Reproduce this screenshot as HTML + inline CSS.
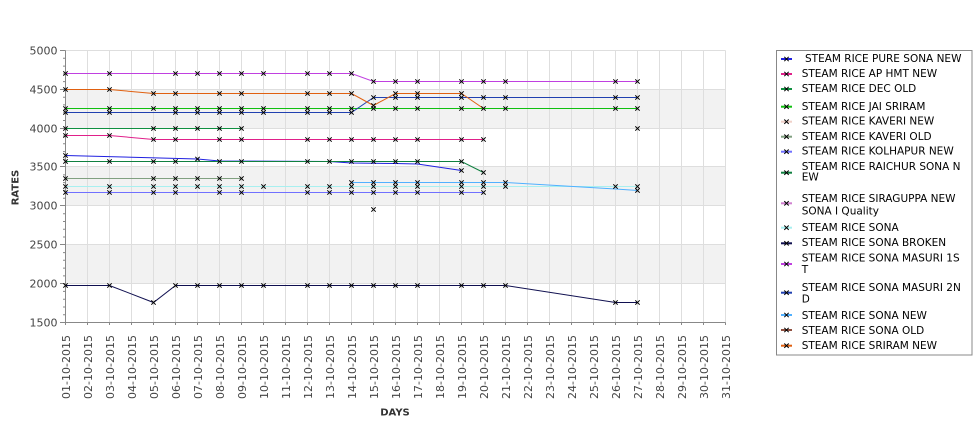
<!DOCTYPE html>
<html>
<head>
<meta charset="utf-8">
<style>
  html,body{margin:0;padding:0;background:#fff;}
  svg{display:block;}
  .tl{font-family:"DejaVu Sans","Liberation Sans",sans-serif;font-size:11px;fill:#444;}
  .lg{font-family:"DejaVu Sans","Liberation Sans",sans-serif;font-size:10.5px;fill:#000;}
  .ax{font-family:"DejaVu Sans","Liberation Sans",sans-serif;font-size:10px;font-weight:bold;fill:#333;}
</style>
</head>
<body>
<svg width="975" height="429" viewBox="0 0 975 429" xmlns="http://www.w3.org/2000/svg">
  <defs>
    <path id="m" d="M-2.2,-2.2L2.2,2.2M-2.2,2.2L2.2,-2.2" stroke="#000" stroke-width="1" fill="none"/>
  </defs>
  <rect x="0" y="0" width="975" height="429" fill="#fff"/>

  <!-- bands -->
  <rect x="65.5" y="89.5" width="660" height="39" fill="#f2f2f2"/>
  <rect x="65.5" y="166.5" width="660" height="39" fill="#f2f2f2"/>
  <rect x="65.5" y="244.5" width="660" height="39" fill="#f2f2f2"/>

  <!-- grid -->
  <g stroke="#dedede" stroke-width="1" fill="none">
    <path d="M65.5,50.5H725.5M65.5,89.5H725.5M65.5,128.5H725.5M65.5,166.5H725.5M65.5,205.5H725.5M65.5,244.5H725.5M65.5,283.5H725.5"/>
    <path d="M87.5,50.5V322.5M109.5,50.5V322.5M131.5,50.5V322.5M153.5,50.5V322.5M175.5,50.5V322.5M197.5,50.5V322.5M219.5,50.5V322.5M241.5,50.5V322.5M263.5,50.5V322.5M285.5,50.5V322.5M307.5,50.5V322.5M329.5,50.5V322.5M351.5,50.5V322.5M373.5,50.5V322.5M395.5,50.5V322.5M417.5,50.5V322.5M439.5,50.5V322.5M461.5,50.5V322.5M483.5,50.5V322.5M505.5,50.5V322.5M527.5,50.5V322.5M549.5,50.5V322.5M571.5,50.5V322.5M593.5,50.5V322.5M615.5,50.5V322.5M637.5,50.5V322.5M659.5,50.5V322.5M681.5,50.5V322.5M703.5,50.5V322.5M725.5,50.5V322.5"/>
  </g>

  <!-- axes -->
  <g stroke="#888" stroke-width="1" fill="none">
    <path d="M65.5,50.5V322.5H725.5"/>
    <path d="M60,50.5H65.5M60,89.5H65.5M60,128.5H65.5M60,166.5H65.5M60,205.5H65.5M60,244.5H65.5M60,283.5H65.5M60,322.5H65.5"/>
    <path d="M63,58.3H65.5M63,66.1H65.5M63,73.9H65.5M63,81.6H65.5M63,97.2H65.5M63,104.9H65.5M63,112.7H65.5M63,120.5H65.5M63,136H65.5M63,143.8H65.5M63,151.6H65.5M63,159.3H65.5M63,174.9H65.5M63,182.6H65.5M63,190.4H65.5M63,198.2H65.5M63,213.7H65.5M63,221.5H65.5M63,229.3H65.5M63,237H65.5M63,252.6H65.5M63,260.3H65.5M63,268.1H65.5M63,275.9H65.5M63,291.4H65.5M63,299.2H65.5M63,307H65.5M63,314.7H65.5"/>
    <path d="M65.5,322.5V325M87.5,322.5V325M109.5,322.5V325M131.5,322.5V325M153.5,322.5V325M175.5,322.5V325M197.5,322.5V325M219.5,322.5V325M241.5,322.5V325M263.5,322.5V325M285.5,322.5V325M307.5,322.5V325M329.5,322.5V325M351.5,322.5V325M373.5,322.5V325M395.5,322.5V325M417.5,322.5V325M439.5,322.5V325M461.5,322.5V325M483.5,322.5V325M505.5,322.5V325M527.5,322.5V325M549.5,322.5V325M571.5,322.5V325M593.5,322.5V325M615.5,322.5V325M637.5,322.5V325M659.5,322.5V325M681.5,322.5V325M703.5,322.5V325M725.5,322.5V325"/>
  </g>

  <!-- y labels -->
  <g class="tl" text-anchor="end">
    <text x="57.5" y="54.5">5000</text>
    <text x="57.5" y="93.5">4500</text>
    <text x="57.5" y="132.5">4000</text>
    <text x="57.5" y="170.5">3500</text>
    <text x="57.5" y="209.5">3000</text>
    <text x="57.5" y="248.5">2500</text>
    <text x="57.5" y="287.5">2000</text>
    <text x="57.5" y="326.5">1500</text>
  </g>

  <!-- x labels -->
  <g class="tl" text-anchor="end">
    <text transform="translate(70,335) rotate(-90)">01-10-2015</text>
    <text transform="translate(92,335) rotate(-90)">02-10-2015</text>
    <text transform="translate(114,335) rotate(-90)">03-10-2015</text>
    <text transform="translate(136,335) rotate(-90)">04-10-2015</text>
    <text transform="translate(158,335) rotate(-90)">05-10-2015</text>
    <text transform="translate(180,335) rotate(-90)">06-10-2015</text>
    <text transform="translate(202,335) rotate(-90)">07-10-2015</text>
    <text transform="translate(224,335) rotate(-90)">08-10-2015</text>
    <text transform="translate(246,335) rotate(-90)">09-10-2015</text>
    <text transform="translate(268,335) rotate(-90)">10-10-2015</text>
    <text transform="translate(290,335) rotate(-90)">11-10-2015</text>
    <text transform="translate(312,335) rotate(-90)">12-10-2015</text>
    <text transform="translate(334,335) rotate(-90)">13-10-2015</text>
    <text transform="translate(356,335) rotate(-90)">14-10-2015</text>
    <text transform="translate(378,335) rotate(-90)">15-10-2015</text>
    <text transform="translate(400,335) rotate(-90)">16-10-2015</text>
    <text transform="translate(422,335) rotate(-90)">17-10-2015</text>
    <text transform="translate(444,335) rotate(-90)">18-10-2015</text>
    <text transform="translate(466,335) rotate(-90)">19-10-2015</text>
    <text transform="translate(488,335) rotate(-90)">20-10-2015</text>
    <text transform="translate(510,335) rotate(-90)">21-10-2015</text>
    <text transform="translate(532,335) rotate(-90)">22-10-2015</text>
    <text transform="translate(554,335) rotate(-90)">23-10-2015</text>
    <text transform="translate(576,335) rotate(-90)">24-10-2015</text>
    <text transform="translate(598,335) rotate(-90)">25-10-2015</text>
    <text transform="translate(620,335) rotate(-90)">26-10-2015</text>
    <text transform="translate(642,335) rotate(-90)">27-10-2015</text>
    <text transform="translate(664,335) rotate(-90)">28-10-2015</text>
    <text transform="translate(686,335) rotate(-90)">29-10-2015</text>
    <text transform="translate(708,335) rotate(-90)">30-10-2015</text>
    <text transform="translate(730,335) rotate(-90)">31-10-2015</text>
  </g>

  <!-- axis titles -->
  <text class="ax" x="395" y="415.5" text-anchor="middle">DAYS</text>
  <text class="ax" text-anchor="middle" transform="translate(18.5,187.5) rotate(-90)">RATES</text>

  <!-- series lines -->
  <g fill="none" stroke-width="1">
    <path stroke="#2020e0" d="M65.5,155.5L197.5,159L219.5,161L329.5,161.5L351.5,163L395.5,163.5L417.5,164L461.5,170.5"/>
    <path stroke="#e0208a" d="M65.5,135.5H109.5L153.5,139.5H483.5"/>
    <path stroke="#109040" d="M65.5,128.5H241.5"/>
    <path stroke="#10c010" d="M65.5,108.5H637.5"/>
    <path stroke="#80a080" d="M65.5,178.5H241.5"/>
    <path stroke="#7070ff" d="M65.5,192.5H483.5"/>
    <path stroke="#108040" d="M65.5,161.5H461.5L483.5,172.5"/>
    <path stroke="#a8f0f0" d="M65.5,186.5H637.5"/>
    <path stroke="#101050" d="M65.5,285.5H109.5L153.5,302.5L175.5,285.5H505.5L615.5,302.5H637.5"/>
    <path stroke="#c040e0" d="M65.5,73.5H351.5L373.5,81.5H637.5"/>
    <path stroke="#2040b0" d="M65.5,112.5H351.5L373.5,97.5H637.5"/>
    <path stroke="#50b0ff" d="M351.5,182.5H505.5L615.5,189L637.5,190.5"/>
    <path stroke="#e06010" d="M65.5,89.5H109.5L153.5,93.5H351.5L373.5,105.5L395.5,93.5H461.5L483.5,108.5"/>
  </g>

  <!-- markers -->
  <g>
    <use href="#m" x="65.5" y="73.5"/><use href="#m" x="109.5" y="73.5"/><use href="#m" x="175.5" y="73.5"/><use href="#m" x="197.5" y="73.5"/><use href="#m" x="219.5" y="73.5"/><use href="#m" x="241.5" y="73.5"/><use href="#m" x="263.5" y="73.5"/><use href="#m" x="307.5" y="73.5"/><use href="#m" x="329.5" y="73.5"/><use href="#m" x="351.5" y="73.5"/>
    <use href="#m" x="373.5" y="81.5"/><use href="#m" x="395.5" y="81.5"/><use href="#m" x="417.5" y="81.5"/><use href="#m" x="461.5" y="81.5"/><use href="#m" x="483.5" y="81.5"/><use href="#m" x="505.5" y="81.5"/><use href="#m" x="615.5" y="81.5"/><use href="#m" x="637.5" y="81.5"/>
    <use href="#m" x="65.5" y="89.5"/><use href="#m" x="109.5" y="89.5"/>
    <use href="#m" x="153.5" y="93.5"/><use href="#m" x="175.5" y="93.5"/><use href="#m" x="219.5" y="93.5"/><use href="#m" x="241.5" y="93.5"/><use href="#m" x="307.5" y="93.5"/><use href="#m" x="329.5" y="93.5"/><use href="#m" x="351.5" y="93.5"/><use href="#m" x="395.5" y="93.5"/><use href="#m" x="417.5" y="93.5"/><use href="#m" x="461.5" y="93.5"/>
    <use href="#m" x="373.5" y="105.5"/>
    <use href="#m" x="373.5" y="97.5"/><use href="#m" x="395.5" y="97.5"/><use href="#m" x="417.5" y="97.5"/><use href="#m" x="461.5" y="97.5"/><use href="#m" x="483.5" y="97.5"/><use href="#m" x="505.5" y="97.5"/><use href="#m" x="615.5" y="97.5"/><use href="#m" x="637.5" y="97.5"/>
    <use href="#m" x="65.5" y="108.5"/><use href="#m" x="109.5" y="108.5"/><use href="#m" x="153.5" y="108.5"/><use href="#m" x="175.5" y="108.5"/><use href="#m" x="197.5" y="108.5"/><use href="#m" x="219.5" y="108.5"/><use href="#m" x="241.5" y="108.5"/><use href="#m" x="263.5" y="108.5"/><use href="#m" x="307.5" y="108.5"/><use href="#m" x="329.5" y="108.5"/><use href="#m" x="351.5" y="108.5"/><use href="#m" x="373.5" y="108.5"/><use href="#m" x="395.5" y="108.5"/><use href="#m" x="417.5" y="108.5"/><use href="#m" x="461.5" y="108.5"/><use href="#m" x="483.5" y="108.5"/><use href="#m" x="505.5" y="108.5"/><use href="#m" x="615.5" y="108.5"/><use href="#m" x="637.5" y="108.5"/>
    <use href="#m" x="65.5" y="112.5"/><use href="#m" x="109.5" y="112.5"/><use href="#m" x="175.5" y="112.5"/><use href="#m" x="197.5" y="112.5"/><use href="#m" x="219.5" y="112.5"/><use href="#m" x="241.5" y="112.5"/><use href="#m" x="263.5" y="112.5"/><use href="#m" x="307.5" y="112.5"/><use href="#m" x="329.5" y="112.5"/><use href="#m" x="351.5" y="112.5"/>
    <use href="#m" x="65.5" y="128.5"/><use href="#m" x="153.5" y="128.5"/><use href="#m" x="175.5" y="128.5"/><use href="#m" x="197.5" y="128.5"/><use href="#m" x="219.5" y="128.5"/><use href="#m" x="241.5" y="128.5"/><use href="#m" x="637.5" y="128.5"/>
    <use href="#m" x="65.5" y="135.5"/><use href="#m" x="109.5" y="135.5"/>
    <use href="#m" x="153.5" y="139.5"/><use href="#m" x="175.5" y="139.5"/><use href="#m" x="219.5" y="139.5"/><use href="#m" x="241.5" y="139.5"/><use href="#m" x="307.5" y="139.5"/><use href="#m" x="329.5" y="139.5"/><use href="#m" x="351.5" y="139.5"/><use href="#m" x="373.5" y="139.5"/><use href="#m" x="395.5" y="139.5"/><use href="#m" x="417.5" y="139.5"/><use href="#m" x="461.5" y="139.5"/><use href="#m" x="483.5" y="139.5"/>
    <use href="#m" x="65.5" y="155.5"/><use href="#m" x="197.5" y="159"/><use href="#m" x="461.5" y="170.5"/>
    <use href="#m" x="65.5" y="161.5"/><use href="#m" x="109.5" y="161.5"/><use href="#m" x="153.5" y="161.5"/><use href="#m" x="175.5" y="161.5"/><use href="#m" x="219.5" y="161.5"/><use href="#m" x="241.5" y="161.5"/><use href="#m" x="307.5" y="161.5"/><use href="#m" x="329.5" y="161.5"/><use href="#m" x="351.5" y="161.5"/><use href="#m" x="373.5" y="161.5"/><use href="#m" x="395.5" y="161.5"/><use href="#m" x="417.5" y="161.5"/><use href="#m" x="461.5" y="161.5"/><use href="#m" x="483.5" y="172.5"/>
    <use href="#m" x="65.5" y="178.5"/><use href="#m" x="153.5" y="178.5"/><use href="#m" x="175.5" y="178.5"/><use href="#m" x="197.5" y="178.5"/><use href="#m" x="219.5" y="178.5"/><use href="#m" x="241.5" y="178.5"/>
    <use href="#m" x="351.5" y="182.5"/><use href="#m" x="373.5" y="182.5"/><use href="#m" x="395.5" y="182.5"/><use href="#m" x="417.5" y="182.5"/><use href="#m" x="461.5" y="182.5"/><use href="#m" x="483.5" y="182.5"/><use href="#m" x="505.5" y="182.5"/><use href="#m" x="637.5" y="190.5"/>
    <use href="#m" x="65.5" y="186.5"/><use href="#m" x="109.5" y="186.5"/><use href="#m" x="153.5" y="186.5"/><use href="#m" x="175.5" y="186.5"/><use href="#m" x="197.5" y="186.5"/><use href="#m" x="219.5" y="186.5"/><use href="#m" x="241.5" y="186.5"/><use href="#m" x="263.5" y="186.5"/><use href="#m" x="307.5" y="186.5"/><use href="#m" x="329.5" y="186.5"/><use href="#m" x="351.5" y="186.5"/><use href="#m" x="373.5" y="186.5"/><use href="#m" x="395.5" y="186.5"/><use href="#m" x="417.5" y="186.5"/><use href="#m" x="461.5" y="186.5"/><use href="#m" x="483.5" y="186.5"/><use href="#m" x="505.5" y="186.5"/><use href="#m" x="615.5" y="186.5"/><use href="#m" x="637.5" y="186.5"/>
    <use href="#m" x="65.5" y="192.5"/><use href="#m" x="109.5" y="192.5"/><use href="#m" x="153.5" y="192.5"/><use href="#m" x="175.5" y="192.5"/><use href="#m" x="219.5" y="192.5"/><use href="#m" x="241.5" y="192.5"/><use href="#m" x="307.5" y="192.5"/><use href="#m" x="329.5" y="192.5"/><use href="#m" x="351.5" y="192.5"/><use href="#m" x="373.5" y="192.5"/><use href="#m" x="395.5" y="192.5"/><use href="#m" x="417.5" y="192.5"/><use href="#m" x="461.5" y="192.5"/><use href="#m" x="483.5" y="192.5"/>
    <use href="#m" x="373.5" y="209.5"/>
    <use href="#m" x="65.5" y="285.5"/><use href="#m" x="109.5" y="285.5"/><use href="#m" x="175.5" y="285.5"/><use href="#m" x="197.5" y="285.5"/><use href="#m" x="219.5" y="285.5"/><use href="#m" x="241.5" y="285.5"/><use href="#m" x="263.5" y="285.5"/><use href="#m" x="307.5" y="285.5"/><use href="#m" x="329.5" y="285.5"/><use href="#m" x="351.5" y="285.5"/><use href="#m" x="373.5" y="285.5"/><use href="#m" x="395.5" y="285.5"/><use href="#m" x="417.5" y="285.5"/><use href="#m" x="461.5" y="285.5"/><use href="#m" x="483.5" y="285.5"/><use href="#m" x="505.5" y="285.5"/>
    <use href="#m" x="153.5" y="302.5"/><use href="#m" x="615.5" y="302.5"/><use href="#m" x="637.5" y="302.5"/>
  </g>

  <!-- legend -->
  <rect x="776.5" y="50.5" width="195.5" height="304.5" fill="#fff" stroke="#888" stroke-width="1"/>
  <g stroke-width="2" fill="none">
    <path stroke="#2020e0" d="M781,59H792"/>
    <path stroke="#e0208a" d="M781,74H792"/>
    <path stroke="#109040" d="M781,89H792"/>
    <path stroke="#10c010" d="M781,106.7H792"/>
    <path stroke="#f0d0c8" d="M781,121.7H792"/>
    <path stroke="#80a080" d="M781,136.7H792"/>
    <path stroke="#7070ff" d="M781,151.7H792"/>
    <path stroke="#108040" d="M781,172.7H792"/>
    <path stroke="#d080d0" d="M781,203.3H792"/>
    <path stroke="#a8f0f0" d="M781,227.7H792"/>
    <path stroke="#101050" d="M781,243.3H792"/>
    <path stroke="#c040e0" d="M781,264H792"/>
    <path stroke="#2040b0" d="M781,292.7H792"/>
    <path stroke="#50b0ff" d="M781,315H792"/>
    <path stroke="#905040" d="M781,330H792"/>
    <path stroke="#e06010" d="M781,345.7H792"/>
  </g>
  <g>
    <use href="#m" x="786.5" y="59"/><use href="#m" x="786.5" y="74"/><use href="#m" x="786.5" y="89"/><use href="#m" x="786.5" y="106.7"/><use href="#m" x="786.5" y="121.7"/><use href="#m" x="786.5" y="136.7"/><use href="#m" x="786.5" y="151.7"/><use href="#m" x="786.5" y="172.7"/><use href="#m" x="786.5" y="203.3"/><use href="#m" x="786.5" y="227.7"/><use href="#m" x="786.5" y="243.3"/><use href="#m" x="786.5" y="264"/><use href="#m" x="786.5" y="292.7"/><use href="#m" x="786.5" y="315"/><use href="#m" x="786.5" y="330"/><use href="#m" x="786.5" y="345.7"/>
  </g>
  <g class="lg">
    <text x="805" y="62">STEAM RICE PURE SONA NEW</text>
    <text x="801.7" y="77">STEAM RICE AP HMT NEW</text>
    <text x="801.7" y="92">STEAM RICE DEC OLD</text>
    <text x="801.7" y="110">STEAM RICE JAI SRIRAM</text>
    <text x="801.7" y="124.5">STEAM RICE KAVERI NEW</text>
    <text x="801.7" y="139.8">STEAM RICE KAVERI OLD</text>
    <text x="801.7" y="154.5">STEAM RICE KOLHAPUR NEW</text>
    <text x="801.7" y="170">STEAM RICE RAICHUR SONA N</text>
    <text x="801.7" y="180.5">EW</text>
    <text x="801.7" y="202">STEAM RICE SIRAGUPPA NEW</text>
    <text x="801.7" y="214.5">SONA I Quality</text>
    <text x="801.7" y="231">STEAM RICE SONA</text>
    <text x="801.7" y="246">STEAM RICE SONA BROKEN</text>
    <text x="801.7" y="261.5">STEAM RICE SONA MASURI 1S</text>
    <text x="801.7" y="273">T</text>
    <text x="801.7" y="291">STEAM RICE SONA MASURI 2N</text>
    <text x="801.7" y="302.5">D</text>
    <text x="801.7" y="318.8">STEAM RICE SONA NEW</text>
    <text x="801.7" y="333.8">STEAM RICE SONA OLD</text>
    <text x="801.7" y="349">STEAM RICE SRIRAM NEW</text>
  </g>
</svg>
</body>
</html>
